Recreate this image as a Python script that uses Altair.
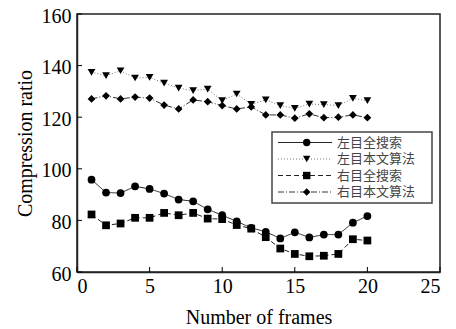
import altair as alt
import pandas as pd

frames = list(range(1, 21))
names = ["左目全搜索", "左目本文算法", "右目全搜索", "右目本文算法"]
left_full = [95.8, 90.8, 90.6, 93.2, 92.2, 90.4, 88.1, 87.4, 84.3, 82.0,
             79.6, 77.1, 75.6, 73.0, 75.4, 73.4, 74.5, 74.5, 79.1, 81.7]
left_ours = [137.4, 136.1, 138.0, 135.2, 135.4, 133.2, 131.3, 130.3, 130.9, 126.4,
             129.0, 125.0, 126.7, 124.5, 123.4, 125.1, 124.9, 124.5, 127.3, 126.4]
right_full = [82.3, 78.1, 78.8, 81.0, 81.0, 82.9, 82.0, 82.9, 80.7, 80.5,
              78.2, 76.8, 73.5, 69.1, 67.0, 66.1, 66.3, 67.0, 72.7, 72.2]
right_ours = [127.1, 128.3, 127.1, 127.8, 127.4, 124.7, 123.2, 126.7, 126.0, 124.5,
              123.2, 124.0, 120.9, 120.9, 119.6, 121.3, 119.8, 120.0, 120.9, 119.8]
x_ticks = [0, 5, 10, 15, 20, 25]
y_ticks = [60, 80, 100, 120, 140, 160]

series = [left_full, left_ours, right_full, right_ours]
rows = []
for n, vals in zip(names, series):
    for f, v in zip(frames, vals):
        rows.append({"frame": f, "value": v, "series": n})
df = pd.DataFrame(rows)

W, H = 363, 258
shapes = ["circle", "triangle-down", "square", "diamond"]
dashes = [[1, 0], [1, 2], [5, 3], [6, 2, 1, 2]]
line_colors = ["#222222", "#777777", "#222222", "#333333"]

xs = alt.Scale(domain=[0, 25], nice=False)
ys = alt.Scale(domain=[60, 160], nice=False)

x_enc = alt.X("frame:Q", scale=xs, axis=alt.Axis(values=x_ticks, title="Number of frames",
                                                  ticks=False, labelPadding=4, titlePadding=11))
y_enc = alt.Y("value:Q", scale=ys, axis=alt.Axis(values=y_ticks, title="Compression ratio",
                                                  ticks=False, labelPadding=6, titlePadding=6,
                                                  labelOffset=2))

base = alt.Chart(df)
lines = base.mark_line(strokeWidth=1).encode(
    x=x_enc, y=y_enc,
    color=alt.Color("series:N", scale=alt.Scale(domain=names, range=line_colors), legend=None),
    strokeDash=alt.StrokeDash("series:N", scale=alt.Scale(domain=names, range=dashes), legend=None),
    detail="series:N",
)
points = base.mark_point(filled=True, size=60, color="black", opacity=1).encode(
    x="frame:Q", y="value:Q",
    shape=alt.Shape("series:N", scale=alt.Scale(domain=names, range=shapes), legend=None),
)

xt = alt.Chart(pd.DataFrame({"v": x_ticks})).mark_rule(color="black", strokeWidth=1).encode(
    x=alt.X("v:Q", scale=xs), y=alt.value(H), y2=alt.value(H - 5))
yt = alt.Chart(pd.DataFrame({"v": y_ticks})).mark_rule(color="black", strokeWidth=1).encode(
    y=alt.Y("v:Q", scale=ys), x=alt.value(0), x2=alt.value(5))

layers = [lines, points, xt, yt]

# legend
lx0, lx1, ly0, ly1 = 195, 355, 118, 189
box = alt.Chart(pd.DataFrame({"a": [0]})).mark_rect(fill="white", stroke="#444444", strokeWidth=1.5).encode(
    x=alt.value(lx0), x2=alt.value(lx1), y=alt.value(ly0), y2=alt.value(ly1))
layers.append(box)
for i, n in enumerate(names):
    yy = 128.5 + 16.5 * i
    d = pd.DataFrame({"name": [n]})
    layers.append(alt.Chart(d).mark_rule(strokeWidth=1, color=line_colors[i], strokeDash=dashes[i]).encode(
        x=alt.value(201), x2=alt.value(255), y=alt.value(yy)))
    layers.append(alt.Chart(d).mark_point(filled=True, size=55, color="black", opacity=1, shape=shapes[i]).encode(
        x=alt.value(229.7), y=alt.value(yy)))
    layers.append(alt.Chart(d).mark_text(align="left", baseline="middle", fontSize=13,
                                         font="Noto Sans CJK SC", color="#444444").encode(
        x=alt.value(260), y=alt.value(yy), text="name:N"))

chart = alt.layer(*layers).properties(
    width=W, height=H,
    autosize=alt.AutoSizeParams(type="none"),
    padding={"left": 69, "top": 6, "right": 8, "bottom": 57},
).configure_view(stroke="#222222", strokeWidth=1.5).configure_axis(
    labelFont="Liberation Serif", titleFont="Liberation Serif",
    labelFontSize=20, titleFontSize=20, titleFontWeight="normal",
    labelColor="black", titleColor="black",
    domainColor="#222222", domainWidth=1.5, grid=False,
)

chart.save("out.html", embed_options={"renderer": "svg", "actions": False})
